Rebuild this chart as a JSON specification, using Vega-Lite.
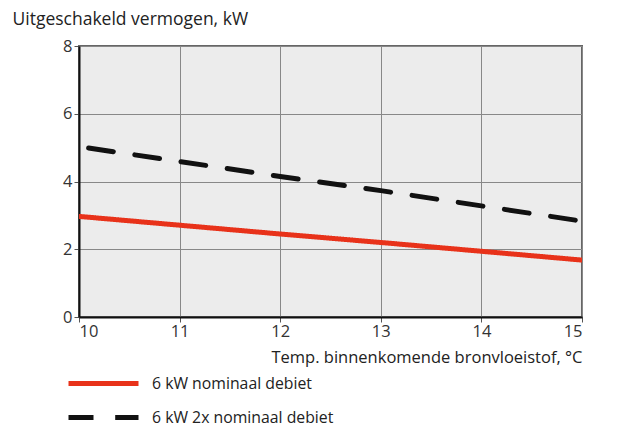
{
  "$schema": "https://vega.github.io/schema/vega-lite/v6.json",
  "width": 503,
  "height": 271,
  "autosize": {"type": "none"},
  "padding": {"left": 79, "top": 46, "right": 37, "bottom": 108},
  "background": "white",
  "config": {
    "font": "Open Sans",
    "view": {"fill": "#ececec", "stroke": "#666", "strokeWidth": 2}
  },
  "data": {
    "values": [
      {"temp": 10, "power": 2.97, "serie": "6 kW nominaal debiet"},
      {"temp": 11, "power": 2.71, "serie": "6 kW nominaal debiet"},
      {"temp": 12, "power": 2.45, "serie": "6 kW nominaal debiet"},
      {"temp": 13, "power": 2.2, "serie": "6 kW nominaal debiet"},
      {"temp": 14, "power": 1.94, "serie": "6 kW nominaal debiet"},
      {"temp": 15, "power": 1.68, "serie": "6 kW nominaal debiet"},
      {"temp": 10, "power": 5.03, "serie": "6 kW 2x nominaal debiet"},
      {"temp": 11, "power": 4.59, "serie": "6 kW 2x nominaal debiet"},
      {"temp": 12, "power": 4.15, "serie": "6 kW 2x nominaal debiet"},
      {"temp": 13, "power": 3.73, "serie": "6 kW 2x nominaal debiet"},
      {"temp": 14, "power": 3.28, "serie": "6 kW 2x nominaal debiet"},
      {"temp": 15, "power": 2.83, "serie": "6 kW 2x nominaal debiet"}
    ]
  },
  "mark": {"type": "line", "strokeWidth": 5, "strokeCap": "round", "clip": true, "strokeDashOffset": 37},
  "encoding": {
    "x": {
      "field": "temp", "type": "quantitative",
      "scale": {"domain": [10, 15], "nice": false, "zero": false},
      "axis": {
        "values": [10, 11, 12, 13, 14, 15],
        "title": "Temp. binnenkomende bronvloeistof, °C",
        "titleFontSize": 16.5, "titleFontWeight": "normal", "titleColor": "#222",
        "titleAnchor": "end", "titleAlign": "right", "titleX": 503, "titleY": 45, "titleBaseline": "alphabetic",
        "labelFontSize": 16.5, "labelColor": "#333", "labelPadding": 1,
        "domainColor": "#111", "domainWidth": 2,
        "tickColor": "#555", "tickSize": 5,
        "gridColor": "#888", "gridOpacity": 1
      }
    },
    "y": {
      "field": "power", "type": "quantitative",
      "scale": {"domain": [0, 8], "nice": false},
      "axis": {
        "values": [0, 2, 4, 6, 8],
        "title": "Uitgeschakeld vermogen, kW",
        "titleFontSize": 17.5, "titleFontWeight": "normal", "titleColor": "#222",
        "titleAngle": 0, "titleAlign": "left", "titleBaseline": "alphabetic",
        "titleX": -67, "titleY": -22,
        "labelFontSize": 16.5, "labelColor": "#333", "labelPadding": 2,
        "domainColor": "#111", "domainWidth": 2,
        "tickColor": "#555", "tickSize": 5,
        "gridColor": "#888", "gridOpacity": 1
      }
    },
    "color": {
      "field": "serie", "type": "nominal",
      "scale": {"domain": ["6 kW nominaal debiet", "6 kW 2x nominaal debiet"], "range": ["#e8321a", "#111111"]},
      "legend": {
        "title": null, "orient": "none", "legendX": 12, "legendY": 325,
        "symbolType": "M-3.5,0H3.5", "symbolSize": 400, "symbolStrokeWidth": 5,
        "labelFontSize": 15.8, "labelColor": "#222", "labelOffset": 36, "labelLimit": 400,
        "rowPadding": 11
      }
    },
    "strokeDash": {
      "field": "serie", "type": "nominal",
      "scale": {"domain": ["6 kW nominaal debiet", "6 kW 2x nominaal debiet"], "range": [[1, 0], [25, 21.7]]}
    }
  }
}
